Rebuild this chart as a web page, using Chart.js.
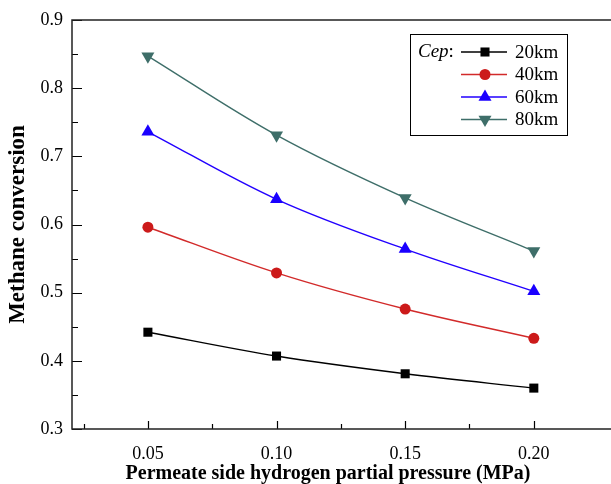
<!DOCTYPE html>
<html>
<head>
<meta charset="utf-8">
<script src="https://cdn.jsdelivr.net/npm/chart.js@4/dist/chart.umd.min.js"></script>
<style>
  body { margin: 0; background: #fff; }
  #wrap { width: 611px; height: 484px; position: relative; }
</style>
</head>
<body>
<div id="wrap"><canvas id="chart"></canvas></div>
<script>
// x values (MPa)
var pressures = [0.05, 0.10, 0.15, 0.20];
var xTickLabels = ['0.05', '0.10', '0.15', '0.20'];
// methane conversion per Cep
var cep20 = [0.442, 0.407, 0.381, 0.360];
var cep40 = [0.596, 0.529, 0.476, 0.433];
var cep60 = [0.736, 0.637, 0.564, 0.502];
var cep80 = [0.847, 0.731, 0.639, 0.561];
var seriesNames = ['20km', '40km', '60km', '80km'];
var xTitle = 'Permeate side hydrogen partial pressure (MPa)';

function pts(vals) {
  return vals.map(function (v, i) { return { x: pressures[i], y: v }; });
}

var styles = [
  { line: '#000000', fill: '#000000', shape: 'rect', r: 6.4 },
  { line: '#d22a2a', fill: '#cc1a1a', shape: 'circle', r: 5.5 },
  { line: '#2200ff', fill: '#1a00ff', shape: 'triangle', r: 7.5 },
  { line: '#3e6e69', fill: '#3e6e69', shape: 'triangle', r: 7.5, rot: 180 }
];
var allSeries = [cep20, cep40, cep60, cep80];

var datasets = allSeries.map(function (vals, i) {
  var s = styles[i];
  return {
    label: seriesNames[i],
    data: pts(vals),
    borderColor: s.line,
    backgroundColor: s.fill,
    borderWidth: 1.4,
    pointStyle: s.shape,
    pointRadius: s.r,
    pointRotation: s.rot || 0,
    pointBorderWidth: 0,
    pointBackgroundColor: s.fill,
    tension: 0.35
  };
});

// inward tick marks on the left and bottom axes, plus frame and x title
var inwardTicks = {
  id: 'inwardTicks',
  afterDraw: function (chart) {
    var c = chart.ctx, a = chart.chartArea;
    var xs = chart.scales.x, ys = chart.scales.y;
    c.save();
    c.strokeStyle = '#000';
    c.lineWidth = 1.2;
    c.beginPath();
    for (var v = 0.3; v <= 0.9001; v += 0.05) {
      var py = Math.round(ys.getPixelForValue(v)) + 0.5;
      var major = Math.abs(Math.round(v * 10) - v * 10) < 0.001;
      c.moveTo(a.left, py);
      c.lineTo(a.left + (major ? 10 : 6), py);
    }
    for (var u = 0.025; u <= 0.2001; u += 0.025) {
      var px = Math.round(xs.getPixelForValue(u)) + 0.5;
      var maj = Math.abs(Math.round(u * 20) - u * 20) < 0.001;
      c.moveTo(px, a.bottom);
      c.lineTo(px, a.bottom - (maj ? 8 : 5));
    }
    c.stroke();
    c.lineWidth = 1.5;
    c.strokeStyle = '#222';
    c.beginPath();
    c.moveTo(a.right, a.top);
    c.lineTo(a.left, a.top);
    c.lineTo(a.left, a.bottom);
    c.lineTo(a.right, a.bottom);
    c.stroke();
    // x axis title, centred under the original plot width
    c.fillStyle = '#000';
    c.font = 'bold 20px "Liberation Serif"';
    c.textAlign = 'center';
    c.textBaseline = 'middle';
    c.fillText(xTitle, 328, 474);
    c.restore();
  }
};

// boxed legend with "Cep:" prefix
var cepLegend = {
  id: 'cepLegend',
  afterDraw: function (chart) {
    var c = chart.ctx;
    var bx = 410, by = 34, bw = 157, bh = 101;
    c.save();
    c.fillStyle = '#fff';
    c.fillRect(bx, by, bw, bh);
    c.strokeStyle = '#000';
    c.lineWidth = 1;
    c.strokeRect(bx + 0.5, by + 0.5, bw, bh);
    c.fillStyle = '#000';
    c.textBaseline = 'middle';
    c.font = 'italic 19px "Liberation Serif"';
    c.fillText('Cep', bx + 8, by + 18);
    var w = c.measureText('Cep').width;
    c.font = '19px "Liberation Serif"';
    c.fillText(':', bx + 8 + w, by + 18);
    chart.data.datasets.forEach(function (ds, i) {
      var yy = by + 18 + i * 22.5;
      c.strokeStyle = ds.borderColor;
      c.lineWidth = 1.4;
      c.beginPath();
      c.moveTo(bx + 51, yy);
      c.lineTo(bx + 97, yy);
      c.stroke();
      c.fillStyle = ds.pointBackgroundColor;
      Chart.helpers.drawPoint(c, {
        pointStyle: ds.pointStyle,
        radius: ds.pointRadius,
        rotation: ds.pointRotation,
        borderWidth: 0
      }, bx + 75, yy);
      c.fillStyle = '#000';
      c.font = '19px "Liberation Serif"';
      c.fillText(ds.label, bx + 105, yy + 1);
    });
    c.restore();
  }
};

new Chart(document.getElementById('chart'), {
  type: 'line',
  data: { datasets: datasets },
  plugins: [inwardTicks, cepLegend],
  options: {
    responsive: true,
    maintainAspectRatio: false,
    animation: false,
    layout: { autoPadding: false, padding: { top: 20, right: 0, bottom: 0, left: 0 } },
    plugins: { legend: { display: false }, tooltip: { enabled: false } },
    scales: {
      x: {
        type: 'linear',
        min: 0.0205,
        max: 0.23,
        border: { display: false },
        grid: { display: false, drawTicks: false },
        afterBuildTicks: function (scale) {
          scale.ticks = pressures.map(function (p) { return { value: p }; });
        },
        afterFit: function (scale) {
          scale.height = 55;
          scale.paddingLeft = 0;
          scale.paddingRight = 0;
        },
        ticks: {
          color: '#000',
          font: { family: 'Liberation Serif', size: 18 },
          padding: 14,
          maxRotation: 0,
          autoSkip: false,
          callback: function (v, i) { return xTickLabels[i]; }
        }
      },
      y: {
        min: 0.3,
        max: 0.9,
        border: { display: false },
        grid: { display: false, drawTicks: false },
        afterFit: function (scale) {
          scale.width = 72;
          scale.paddingTop = 0;
          scale.paddingBottom = 0;
        },
        ticks: {
          stepSize: 0.1,
          color: '#000',
          font: { family: 'Liberation Serif', size: 18 },
          padding: 9,
          callback: function (v) { return v.toFixed(1); }
        },
        title: {
          display: true,
          text: 'Methane conversion',
          color: '#000',
          font: { family: 'Liberation Serif', size: 23, weight: 'bold' },
          padding: { top: 4, bottom: 0 }
        }
      }
    }
  }
});
</script>
</body>
</html>
